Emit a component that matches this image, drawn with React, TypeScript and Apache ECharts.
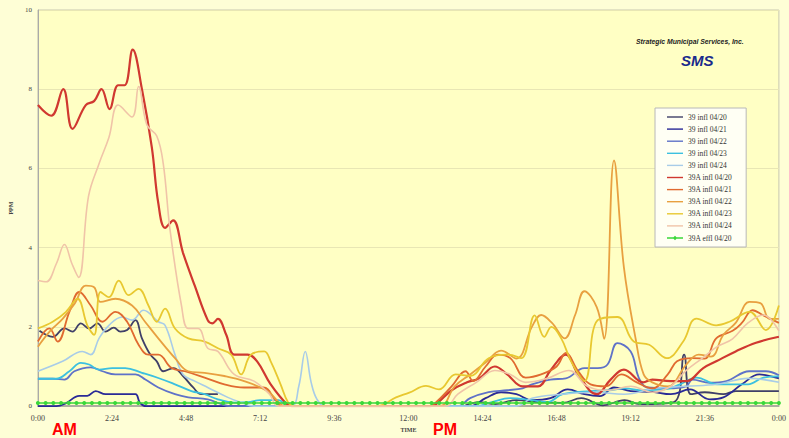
import React, { useEffect, useRef } from 'react';
import * as echarts from 'echarts';

type Pt = [number, number | null];

const seriesNames = [
  '39 infl 04/20', '39 infl 04/21', '39 infl 04/22', '39 infl 04/23', '39 infl 04/24',
  '39A infl 04/20', '39A infl 04/21', '39A infl 04/22', '39A infl 04/23', '39A infl 04/24',
  '39A effl 04/20',
];
const seriesColors = [
  '#404068', '#2a2a96', '#5f72c8', '#3cc0e0', '#a8cce8',
  '#d03830', '#e06a30', '#e8a040', '#e8c830', '#f0c4a8', '#3ad83a',
];
const seriesWidths = [1.8, 1.8, 1.8, 1.8, 1.6, 2.2, 1.8, 1.8, 1.8, 1.6, 1.6];

const xTickLabels = ['0:00', '2:24', '4:48', '7:12', '9:36', '12:00', '14:24', '16:48', '19:12', '21:36', '0:00'];

const infl39_0420: Pt[] = [
  [0.05, 1.9], [0.48, 1.75], [0.86, 1.96], [1.12, 1.88], [1.39, 2.09], [1.66, 1.96], [1.93, 2.09],
  [2.19, 1.88], [2.46, 1.98], [2.67, 1.88], [2.89, 1.92], [3.16, 2.17], [3.37, 1.71], [3.64, 1.3],
  [3.85, 1.13], [4.06, 0.88], [4.39, 0.96], [4.7, 0.76], [5.03, 0.47], [5.29, 0.3], [5.83, 0.3],
  [5.9, null],
  [13.8, 0], [14.3, 0.1], [14.8, 0.05], [15.5, 0.15], [16.2, 0.1], [17.0, 0.08], [17.6, 0.2],
  [18.3, 0.02], [19.0, 0.15], [19.5, 0.05], [20.6, 0.1], [20.93, 1.3], [21.15, 0.3], [21.6, 0.35],
  [22.2, 0.3], [22.6, 0.38], [24, 0.38],
];
const infl39_0421: Pt[] = [
  [0, 0], [0.6, 0], [0.9, 0.07], [1.34, 0.26], [1.6, 0.26], [1.87, 0.38], [2.19, 0.3], [2.62, 0.3],
  [3.16, 0.3], [3.3, 0.09], [3.5, 0], [14.0, 0], [14.5, 0.2], [15.0, 0.35], [15.5, 0.3], [16.0, 0.15],
  [16.6, 0.2], [17.16, 0.42], [17.7, 0.3], [18.2, 0.25], [18.66, 0.47], [19.2, 0.38], [19.9, 0.36],
  [20.5, 0.3], [21.12, 0.42], [21.76, 0.17], [22.2, 0.22], [22.8, 0.55], [23.37, 0.8], [23.9, 0.72],
  [24, 0.7],
];
const infl39_0422: Pt[] = [
  [0, 0.69], [0.48, 0.69], [0.86, 0.67], [1.18, 0.88], [1.71, 0.98], [2.09, 0.88], [2.51, 0.8],
  [3.16, 0.8], [3.48, 0.67], [3.9, 0.47], [4.44, 0.3], [4.87, 0.22], [5.5, 0.17], [5.94, 0.05],
  [6.2, 0], [13.6, 0], [14.0, 0.2], [14.6, 0.35], [15.2, 0.4], [15.7, 0.45], [16.0, 0.55],
  [16.6, 0.67], [17.1, 0.7], [17.7, 0.96], [18.13, 0.96], [18.45, 1.05], [18.77, 1.59], [19.2, 1.38],
  [19.46, 0.72], [19.73, 0.47], [20.4, 0.45], [21.0, 0.5], [21.2, 0.67], [21.76, 0.59], [22.3, 0.63],
  [23.04, 0.88], [23.58, 0.88], [24, 0.78],
];
const infl39_0423: Pt[] = [
  [0, 0.69], [0.59, 0.69], [1.02, 0.88], [1.39, 1.09], [1.66, 1.05], [1.98, 0.92], [2.41, 0.96],
  [2.83, 0.96], [3.37, 0.84], [3.9, 0.71], [4.44, 0.55], [4.97, 0.38], [5.4, 0.3], [5.83, 0.17],
  [6.36, 0.09], [6.8, 0.1], [7.2, 0.15], [7.8, 0.15], [8.1, 0], [14.2, 0], [14.7, 0.1], [15.3, 0.2],
  [16.0, 0.15], [16.5, 0.1], [17.0, 0.3], [17.9, 0.38], [18.5, 0.4], [19.0, 0.45], [19.6, 0.4],
  [20.3, 0.42], [20.8, 0.55], [21.33, 0.72], [22.0, 0.55], [23.0, 0.55], [23.5, 0.72], [24, 0.75],
];
const infl39_0424: Pt[] = [
  [0, 0.88], [0.8, 1.13], [1.44, 1.38], [1.71, 1.3], [1.98, 1.71], [2.3, 2.04], [2.73, 2.25],
  [3.05, 2.17], [3.42, 2.42], [3.9, 2.13], [4.12, 2.04], [4.44, 1.3], [4.7, 0.8], [5.08, 0.63],
  [5.5, 0.47], [6.15, 0.22], [6.58, 0.09], [7.0, 0], [8.2, 0], [8.45, 0.5], [8.66, 1.38], [8.85, 0.6],
  [9.04, 0.17], [9.3, 0], [15.5, 0], [16.0, 0.2], [17.0, 0.3], [18.0, 0.35], [19.0, 0.3], [20.0, 0.45],
  [21.0, 0.5], [22.0, 0.55], [23.0, 0.7], [24, 0.6],
];
const infl39A_0420: Pt[] = [
  [0, 7.6], [0.43, 7.33], [0.82, 8.0], [1.12, 7.0], [1.55, 7.6], [1.82, 7.7], [2.06, 8.0], [2.32, 7.5],
  [2.6, 8.1], [2.81, 8.1], [3.07, 9.0], [3.37, 8.0], [3.69, 6.53], [3.9, 5.12], [4.12, 4.5],
  [4.38, 4.69], [4.7, 3.87], [5.08, 3.04], [5.5, 2.17], [5.65, 2.09], [5.83, 2.2], [6.1, 1.8],
  [6.36, 1.3], [6.79, 1.3], [7.1, 1.13], [7.54, 0.55], [8.07, 0.05], [8.3, 0], [12.7, 0],
  [12.9, 0.05], [13.4, 0.4], [13.9, 0.6], [14.3, 0.7], [14.8, 1.0], [15.2, 0.8], [15.7, 0.5],
  [16.2, 0.5], [16.6, 0.9], [17.1, 1.3], [17.5, 0.8], [18.1, 0.3], [18.55, 0.67], [18.98, 0.92],
  [19.6, 0.6], [19.9, 0.67], [20.5, 0.63], [21.0, 0.63], [21.55, 0.96], [21.97, 1.13], [22.6, 1.38],
  [23.26, 1.6], [24, 1.75],
];
const infl39A_0421: Pt[] = [
  [0, 1.63], [0.37, 1.96], [0.64, 1.63], [1.02, 2.38], [1.34, 2.88], [1.71, 2.54], [2.09, 2.13],
  [2.51, 2.38], [2.89, 2.13], [3.26, 1.55], [3.58, 1.3], [3.9, 1.3], [4.33, 0.96], [4.76, 0.88],
  [5.4, 0.72], [6.04, 0.55], [6.68, 0.47], [7.3, 0.47], [7.7, 0.15], [7.9, 0], [12.7, 0],
  [12.9, 0.1], [13.4, 0.5], [13.85, 0.88], [14.1, 0.63], [14.5, 1.0], [14.9, 1.3], [15.3, 1.21],
  [15.8, 0.72], [16.3, 0.8], [16.8, 1.0], [17.1, 1.34], [17.5, 0.88], [17.9, 0.55], [18.4, 0.5],
  [18.9, 0.8], [19.4, 0.6], [19.9, 0.45], [20.4, 0.8], [20.7, 1.13], [21.2, 1.21], [21.6, 1.2],
  [21.97, 1.71], [22.5, 1.9], [22.8, 2.1], [23.15, 2.42], [23.5, 2.29], [24, 2.1],
];
const infl39A_0422: Pt[] = [
  [0, 1.5], [0.4, 1.9], [0.8, 2.2], [1.2, 2.6], [1.55, 3.04], [1.82, 3.0], [2.03, 2.63], [2.51, 2.71],
  [3.05, 2.54], [3.47, 2.13], [3.9, 1.71], [4.44, 1.21], [4.87, 0.88], [5.4, 0.84], [6.04, 0.76],
  [6.68, 0.63], [7.43, 0.38], [7.8, 0.1], [8.0, 0], [13.0, 0], [13.5, 0.5], [14.0, 0.8], [14.5, 1.1],
  [15.0, 1.4], [15.5, 1.2], [16.0, 2.0], [16.3, 2.3], [16.65, 2.1], [17.06, 1.71], [17.4, 2.3],
  [17.7, 2.9], [18.1, 2.5], [18.34, 1.7], [18.66, 6.2], [18.98, 3.5], [19.36, 1.7], [19.62, 0.8],
  [19.9, 0.6], [20.4, 0.5], [21.0, 1.05], [21.4, 1.3], [21.8, 1.25], [22.2, 1.8], [22.6, 2.1],
  [23.05, 2.63], [23.4, 2.6], [23.7, 2.2], [24, 2.2],
];
const infl39A_0423: Pt[] = [
  [0, 1.96], [0.48, 2.13], [0.91, 2.38], [1.28, 2.71], [1.6, 2.04], [1.82, 1.8], [2.03, 2.88],
  [2.3, 2.75], [2.62, 3.17], [2.94, 2.8], [3.26, 2.96], [3.58, 2.54], [3.85, 2.13], [4.12, 2.46],
  [4.44, 1.96], [4.87, 1.71], [5.4, 1.63], [5.83, 1.46], [6.26, 1.3], [6.58, 0.8], [6.9, 1.3],
  [7.33, 1.38], [7.54, 1.13], [7.86, 0.55], [8.1, 0.1], [8.3, 0], [11.0, 0], [11.6, 0.22],
  [12.03, 0.34], [12.57, 0.51], [12.99, 0.42], [13.53, 0.8], [14.0, 0.76], [14.6, 1.21],
  [15.24, 1.3], [15.66, 1.21], [16.09, 2.29], [16.4, 1.75], [16.63, 2.0], [16.95, 1.71],
  [17.27, 1.13], [17.7, 0.63], [18.13, 2.17], [18.77, 2.25], [19.3, 1.63], [19.8, 1.55],
  [20.37, 1.21], [20.9, 1.63], [21.33, 2.21], [21.97, 2.04], [22.4, 2.13], [23.05, 2.38],
  [23.58, 1.92], [24, 2.54],
];
const infl39A_0424: Pt[] = [
  [0, 3.17], [0.27, 3.14], [0.6, 3.6], [0.86, 4.08], [1.1, 3.6], [1.32, 3.25], [1.64, 5.3],
  [1.98, 6.12], [2.3, 6.78], [2.6, 7.6], [3.05, 7.3], [3.26, 8.07], [3.53, 7.1], [3.85, 6.82],
  [4.06, 6.12], [4.28, 4.45], [4.65, 2.54], [4.87, 1.96], [5.19, 1.96], [5.5, 1.46], [5.83, 1.38],
  [6.36, 0.8], [7.0, 0.63], [7.5, 0.3], [7.8, 0], [13.2, 0], [13.6, 0.3], [14.2, 0.6], [14.8, 0.9],
  [15.3, 0.8], [15.8, 0.6], [16.5, 0.7], [17.2, 0.9], [17.8, 0.5], [18.5, 0.4], [19.2, 0.5],
  [19.9, 0.35], [20.5, 0.5], [21.0, 0.9], [21.5, 1.2], [22.0, 1.5], [22.5, 1.7], [23.0, 2.1],
  [23.5, 2.3], [24, 1.9],
];
// 15-minute samples from 0:00 to 24:00
const effl39A_0420: number[] = [
  0.08, 0.08, 0.08, 0.08, 0.08, 0.08, 0.08, 0.08, 0.08, 0.08, 0.08, 0.08, 0.08, 0.08, 0.08, 0.08,
  0.08, 0.08, 0.08, 0.08, 0.08, 0.08, 0.08, 0.08, 0.08, 0.08, 0.08, 0.08, 0.08, 0.08, 0.08, 0.08,
  0.08, 0.08, 0.08, 0.08, 0.08, 0.08, 0.08, 0.08, 0.08, 0.08, 0.08, 0.08, 0.08, 0.08, 0.08, 0.08,
  0.08, 0.08, 0.08, 0.08, 0.08, 0.08, 0.08, 0.08, 0.08, 0.08, 0.08, 0.08, 0.08, 0.08, 0.08, 0.08,
  0.08, 0.08, 0.08, 0.08, 0.08, 0.08, 0.08, 0.08, 0.08, 0.08, 0.08, 0.08, 0.08, 0.08, 0.08, 0.08,
  0.08, 0.08, 0.08, 0.08, 0.08, 0.08, 0.08, 0.08, 0.08, 0.08, 0.08, 0.08, 0.08, 0.08, 0.08, 0.08,
  0.08,
];
const efflStepHours = 0.25;

const lineData: Pt[][] = [
  infl39_0420, infl39_0421, infl39_0422, infl39_0423, infl39_0424,
  infl39A_0420, infl39A_0421, infl39A_0422, infl39A_0423, infl39A_0424,
];

const serif = "'Liberation Serif', 'DejaVu Serif', serif";
const sans = "'Liberation Sans', Arial, sans-serif";

const lineIcon = 'path://M0,0M16,8M0,3.3L16,3.3L16,4.7L0,4.7Z';
const markerIcon = 'path://M0,0M16,8M0,3.3L16,3.3L16,4.7L0,4.7Z M8,1.8L10.2,4L8,6.2L5.8,4Z';

export default function App() {
  const ref = useRef<HTMLDivElement>(null);
  useEffect(() => {
    if (!ref.current) return;
    const chart = echarts.init(ref.current, undefined, { renderer: 'svg' });
    const series: any[] = lineData.map((d, i) => ({
      name: seriesNames[i],
      type: 'line',
      data: d,
      smooth: 0.4,
      symbol: 'none',
      connectNulls: false,
      lineStyle: { color: seriesColors[i], width: seriesWidths[i] },
      itemStyle: { color: seriesColors[i] },
      z: 2,
    }));
    series.push({
      name: seriesNames[10],
      type: 'line',
      data: effl39A_0420.map((v, i) => [i * efflStepHours, v]),
      symbol: 'circle',
      symbolSize: 4,
      showSymbol: true,
      lineStyle: { color: seriesColors[10], width: 1.6 },
      itemStyle: { color: seriesColors[10] },
      z: 3,
    });
    chart.setOption({
      animation: false,
      backgroundColor: '#fefed6',
      grid: {
        left: 35, right: 6, top: 10, bottom: 26,
        show: true, backgroundColor: '#ffffc4', borderColor: '#c8c8b0', borderWidth: 1,
      },
      xAxis: {
        type: 'value', min: 0, max: 24, interval: 2.4,
        name: 'TIME', nameLocation: 'middle', nameGap: 19,
        nameTextStyle: { fontFamily: serif, fontSize: 6, fontWeight: 'bold', color: '#444' },
        axisLine: { show: true, lineStyle: { color: '#999', width: 1.5 } },
        axisTick: { show: false },
        splitLine: { show: false },
        axisLabel: {
          fontFamily: serif, fontSize: 8, color: '#444', margin: 8,
          formatter: (v: number) => xTickLabels[Math.round(v / 2.4)] ?? '',
        },
      },
      yAxis: {
        type: 'value', min: 0, max: 10, interval: 2,
        name: 'PPM', nameLocation: 'middle', nameGap: 20, nameRotate: 90,
        nameTextStyle: { fontFamily: serif, fontSize: 6, fontWeight: 'bold', color: '#444' },
        axisLine: { show: true, lineStyle: { color: '#aaa' } },
        axisTick: { show: false },
        splitLine: { show: true, lineStyle: { color: '#e8e6b4', width: 1 } },
        axisLabel: { fontFamily: serif, fontSize: 7, color: '#444', margin: 6 },
      },
      legend: {
        orient: 'vertical', left: 655, top: 108,
        data: seriesNames.map((n, i) => ({ name: n, icon: i < 10 ? lineIcon : markerIcon })),
        backgroundColor: '#fffff4', borderColor: '#b8b8b8', borderWidth: 1,
        padding: [5, 14, 5, 12],
        itemWidth: 16, itemHeight: 8, itemGap: 4.1,
        textStyle: { fontFamily: serif, fontSize: 7.5, color: '#333' },
      },
      graphic: [
        {
          type: 'text', left: 636, top: 38,
          style: { text: 'Strategic Municipal Services, Inc.', fontFamily: sans, fontSize: 6.8, fontStyle: 'italic', fontWeight: 'bold', fill: '#222' },
        },
        {
          type: 'text', left: 681, top: 53,
          style: { text: 'SMS', fontFamily: sans, fontSize: 15, fontStyle: 'italic', fontWeight: 'bold', fill: '#1a2a8c' },
        },
        {
          type: 'text', left: 52, top: 421,
          style: { text: 'AM', fontFamily: sans, fontSize: 16, fontWeight: 'bold', fill: '#ff0000' },
        },
        {
          type: 'text', left: 433, top: 421,
          style: { text: 'PM', fontFamily: sans, fontSize: 16, fontWeight: 'bold', fill: '#ff0000' },
        },
      ],
      series,
    });
    return () => chart.dispose();
  }, []);
  return <div ref={ref} style={{ position: 'fixed', left: 0, top: 0, width: 789, height: 438 }} />;
}
